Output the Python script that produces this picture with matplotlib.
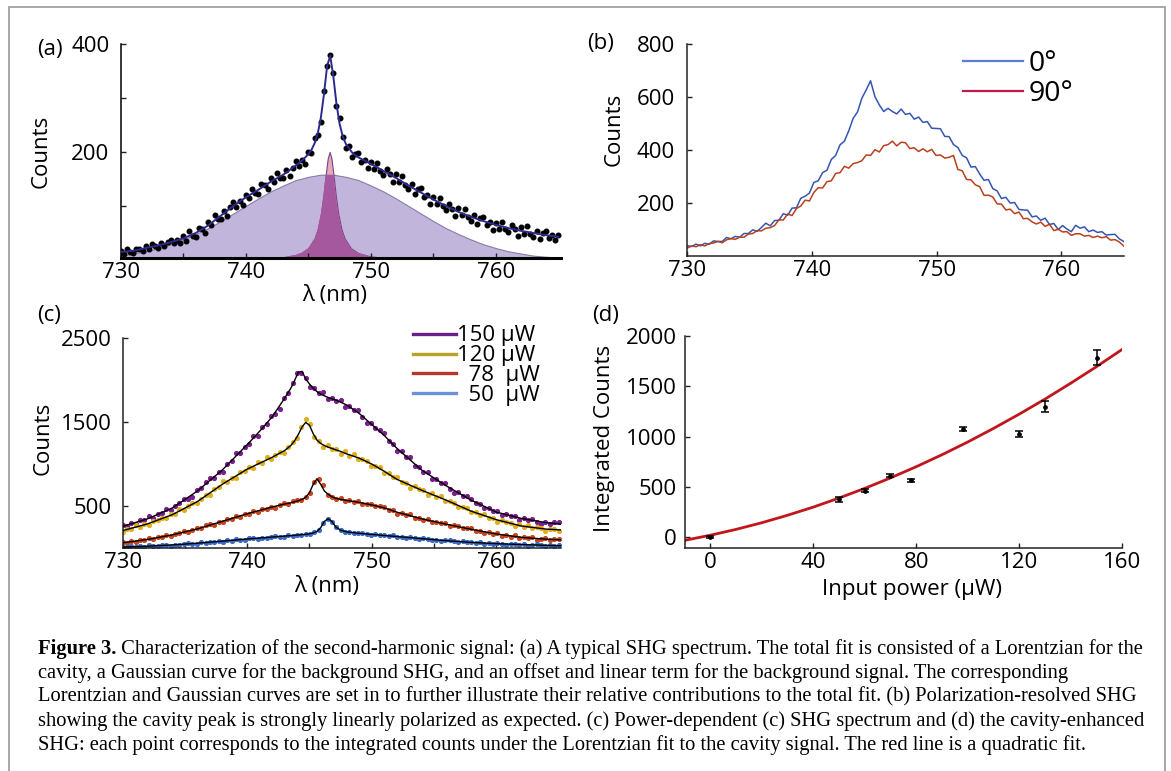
import numpy as np
import matplotlib
matplotlib.use("Agg")
import matplotlib.pyplot as plt
from matplotlib.lines import Line2D
from matplotlib.patches import Rectangle

plt.rcParams["font.family"] = ["Open Sans", "DejaVu Sans"]
plt.rcParams["font.size"] = 16

# (a) typical SHG spectrum, 0.25 nm steps from 730 to 765 nm
a_counts = [17, 12, 20, 14, 13, 21, 20, 16, 26, 21,
            30, 25, 23, 31, 25, 33, 37, 32, 37, 32,
            44, 36, 54, 44, 42, 59, 58, 50, 71, 64,
            84, 75, 75, 91, 82, 98, 108, 99, 110, 101,
            120, 114, 132, 124, 122, 140, 139, 131, 152, 144,
            162, 152, 151, 166, 156, 171, 183, 174, 186, 177,
            200, 198, 225, 231, 255, 313, 360, 380, 347, 285,
            263, 227, 208, 211, 190, 197, 198, 182, 186, 170,
            182, 169, 180, 165, 157, 168, 159, 145, 159, 144,
            156, 139, 131, 140, 122, 131, 133, 117, 120, 104,
            116, 103, 115, 100, 92, 103, 95, 82, 96, 83,
            95, 80, 73, 83, 67, 77, 80, 65, 70, 56,
            69, 57, 71, 57, 51, 64, 57, 45, 61, 49,
            63, 49, 43, 54, 39, 50, 54, 40, 46, 37,
            47]
a_fit_wl = [730, 731, 732, 733, 734, 735, 736, 737, 738, 739, 740, 741, 742, 743, 744,
            744.5, 745, 745.25, 745.5, 745.75, 746, 746.25, 746.5, 746.75, 747,
            747.25, 747.5, 747.75, 748, 748.5, 749, 750, 751, 752, 753, 754, 755,
            756, 757, 758, 759, 760, 761, 762, 763, 764, 765]
a_fit = [15, 17, 22, 27, 33, 40, 50, 64, 82, 100, 116, 130, 145, 158, 175,
         184, 196, 204, 216, 234, 263, 307, 359, 378, 340,
         289, 252, 229, 215, 199, 190, 178, 165, 152, 138, 125, 112,
         100, 89, 80, 72, 65, 59, 54, 50, 46, 43]
a_gauss_wl = list(range(730, 766))
a_gauss = [8, 12, 16, 22, 29, 38, 48, 59, 72, 86,
           100, 114, 127, 138, 148, 154, 158, 158, 154, 148,
           138, 127, 114, 100, 86, 72, 59, 48, 38, 29,
           22, 16, 12, 8, 6, 4]
a_lor_wl = [730, 735, 740, 742, 743, 744, 744.5, 745, 745.5, 745.75,
            746, 746.2, 746.4, 746.55, 746.7, 746.85, 747, 747.2, 747.4, 747.65,
            747.9, 748.4, 749, 750, 752, 755, 760, 765]
a_lor = [0.3, 0.5, 1.6, 3.2, 5.1, 9.4, 13.8, 22, 40, 57,
         85, 118, 160, 188, 200, 188, 160, 118, 85, 57,
         40, 22, 12.7, 6.4, 2.5, 1.0, 0.4, 0.2]

# (b) polarization resolved, 0.35 nm steps
b_deg0 = [39, 36, 45, 38, 48, 44, 57, 55, 55, 70,
          65, 74, 71, 85, 85, 99, 93, 108, 124, 114,
          134, 135, 160, 154, 181, 182, 218, 226, 238, 278,
          284, 315, 324, 365, 380, 420, 434, 473, 520, 544,
          596, 628, 662, 602, 571, 546, 558, 546, 537, 555,
          535, 539, 517, 525, 505, 508, 483, 482, 481, 452,
          451, 421, 410, 380, 371, 336, 338, 310, 286, 289,
          255, 246, 217, 222, 200, 202, 176, 174, 173, 148,
          151, 135, 143, 119, 123, 100, 115, 102, 92, 116,
          105, 110, 92, 98, 89, 92, 79, 81, 82, 65,
          55]
b_deg90 = [30, 38, 35, 43, 38, 47, 49, 55, 50, 61,
           66, 63, 71, 71, 83, 85, 96, 95, 105, 107,
           115, 137, 136, 159, 153, 179, 189, 211, 208, 240,
           258, 257, 281, 284, 312, 315, 339, 332, 349, 353,
           360, 382, 380, 402, 393, 417, 421, 434, 416, 430,
           428, 406, 409, 395, 405, 394, 403, 380, 382, 370,
           373, 380, 327, 322, 289, 288, 269, 262, 229, 230,
           223, 197, 196, 174, 177, 160, 166, 141, 142, 129,
           121, 128, 112, 120, 96, 101, 91, 92, 78, 84,
           84, 75, 78, 70, 75, 69, 73, 60, 62, 53,
           38]

# (c) power dependent spectra, 0.35 nm steps
c_labels = ["150 µW", "120 µW", "  78  µW", "  50  µW"]
c_150 = [278, 263, 297, 286, 334, 335, 379, 364, 405, 417,
         461, 450, 507, 533, 589, 590, 605, 687, 710, 783,
         830, 831, 901, 908, 1005, 1037, 1127, 1126, 1204, 1242,
         1330, 1338, 1434, 1481, 1570, 1600, 1657, 1781, 1844, 1967,
         2082, 2080, 2018, 1912, 1902, 1839, 1855, 1771, 1779, 1745,
         1755, 1682, 1690, 1642, 1637, 1553, 1487, 1489, 1423, 1408,
         1365, 1270, 1243, 1153, 1153, 1086, 1079, 979, 960, 904,
         903, 822, 827, 781, 777, 704, 654, 672, 622, 622,
         588, 533, 527, 476, 483, 444, 448, 398, 403, 379,
         388, 341, 357, 339, 352, 313, 290, 314, 294, 309,
         307]
c_120 = [196, 234, 234, 272, 258, 284, 275, 328, 332, 360,
         355, 407, 410, 465, 459, 502, 532, 532, 588, 638,
         638, 708, 724, 797, 784, 833, 829, 909, 919, 961,
         950, 1022, 1015, 1080, 1057, 1107, 1140, 1129, 1199, 1264,
         1305, 1439, 1530, 1471, 1323, 1270, 1198, 1221, 1182, 1178,
         1125, 1151, 1101, 1124, 1059, 1060, 1040, 977, 978, 961,
         895, 896, 842, 845, 782, 777, 719, 744, 700, 691,
         635, 661, 609, 619, 565, 559, 539, 489, 487, 474,
         426, 433, 401, 408, 362, 357, 315, 336, 308, 303,
         265, 285, 255, 277, 237, 247, 243, 210, 228, 234,
         205]
c_78 = [77, 63, 84, 71, 101, 96, 124, 106, 129, 130,
        160, 143, 173, 177, 202, 188, 220, 237, 238, 271,
        287, 282, 312, 307, 346, 350, 385, 374, 403, 409,
        444, 431, 464, 470, 496, 483, 515, 532, 528, 557,
        573, 569, 610, 662, 790, 823, 749, 636, 614, 586,
        594, 558, 569, 553, 558, 522, 531, 526, 499, 504,
        492, 454, 450, 413, 422, 396, 402, 361, 360, 338,
        348, 309, 317, 297, 298, 262, 271, 265, 240, 246,
        237, 206, 211, 181, 195, 173, 184, 150, 156, 140,
        154, 120, 134, 122, 130, 100, 116, 117, 101, 116,
        114]
c_50 = [21, 13, 27, 13, 25, 19, 35, 26, 23, 39,
        43, 33, 44, 37, 53, 63, 53, 55, 71, 67,
        79, 73, 89, 79, 93, 89, 107, 101, 99, 117,
        123, 114, 126, 119, 136, 146, 137, 139, 155, 151,
        163, 157, 174, 167, 191, 217, 304, 343, 312, 255,
        222, 195, 194, 177, 184, 185, 167, 161, 168, 156,
        158, 144, 152, 132, 138, 126, 135, 120, 109, 118,
        116, 99, 102, 87, 95, 97, 81, 75, 84, 72,
        76, 63, 73, 55, 63, 52, 64, 51, 43, 54,
        55, 40, 46, 33, 45, 49, 34, 30, 41, 32,
        38]
c_fit_wl = [730, 732, 734, 736, 738, 740, 741, 742, 743, 743.5,
            743.8, 744.1, 744.4, 744.7, 745.0, 745.3, 745.6, 745.9, 746.2, 746.5,
            746.8, 747.1, 747.5, 748, 749, 750, 751, 752, 754, 756,
            758, 760, 762, 764, 765.2]
c_fit_150 = [260, 350, 480, 680, 930, 1230, 1390, 1560, 1780, 1900,
             1990, 2090, 2100, 2010, 1950, 1900, 1860, 1830, 1810, 1790,
             1775, 1760, 1735, 1700, 1600, 1470, 1340, 1190, 930, 740,
             570, 430, 355, 305, 285]
c_fit_120 = [210, 290, 400, 555, 760, 940, 1010, 1080, 1160, 1220,
             1275, 1350, 1440, 1495, 1460, 1360, 1285, 1245, 1220, 1200,
             1185, 1170, 1150, 1120, 1070, 1000, 915, 820, 690, 570,
             440, 340, 265, 228, 218]
c_fit_78 = [65, 105, 160, 230, 320, 410, 450, 490, 525, 540,
            552, 565, 580, 605, 660, 760, 825, 760, 680, 640,
            612, 595, 580, 568, 545, 515, 480, 430, 350, 285,
            225, 170, 130, 108, 100]
c_fit_50 = [15, 25, 40, 60, 85, 110, 122, 133, 145, 150,
            154, 158, 162, 166, 172, 182, 200, 245, 320, 350,
            320, 255, 215, 195, 178, 165, 152, 140, 115, 90,
            70, 55, 45, 35, 30]

# (d) integrated counts vs power
d_power = [0, 50, 60, 70, 78, 98, 120, 130, 150]
d_counts = [3, 377, 462, 611, 565, 1076, 1022, 1296, 1782]
d_err = [8, 22, 15, 14, 14, 22, 28, 52, 72]
d_fit_power = [-10, 0, 10, 20, 30, 40, 50, 60, 70, 80, 90, 100, 110, 120, 130, 140, 150, 160]
d_fit_counts = [-31, 20, 78, 144, 218, 299, 389, 485, 589, 700, 819, 945, 1080, 1222, 1371, 1529, 1693, 1865]

W, H = 1171, 771
fig = plt.figure(figsize=(W / 100, H / 100), dpi=100)


def add_ax(left, top, right, bottom):
    # pixel box -> figure fraction
    return fig.add_axes([left / W, 1 - bottom / H, (right - left) / W, (bottom - top) / H])


def base_style(ax, lw=1.1, color="#222222"):
    for s in ("top", "right"):
        ax.spines[s].set_visible(False)
    for s in ("left", "bottom"):
        ax.spines[s].set_linewidth(lw)
        ax.spines[s].set_color(color)
    ax.tick_params(which="both", direction="in", length=3.5, width=1, color=color)
    ax.tick_params(axis="x", pad=3)


spec_wl = np.linspace(730, 765, len(b_deg0))
a_wl = np.linspace(730, 765, len(a_counts))

# ---------- (a) ----------
ax = add_ax(120.7, 44, 561, 258)
base_style(ax)
ax.spines["bottom"].set_linewidth(2.2)
ax.spines["bottom"].set_color("black")
ax.spines["left"].set_color("black")
g = ax.fill_between(a_gauss_wl, 0, a_gauss, facecolor="#c1b5dc", edgecolor="#8a7aa8", lw=0.8, zorder=1)
ax.fill_between(a_lor_wl, 0, a_lor, facecolor="#e6a9b8", edgecolor="#7a3f8a", lw=0.8, zorder=1.2)
ov = ax.fill_between(a_lor_wl, 0, a_lor, facecolor="#a6589e", edgecolor="none", zorder=1.3)
ov.set_clip_path(g.get_paths()[0], transform=ax.transData)
ax.plot(a_wl, a_counts, "o", ms=3.3, color="black", zorder=3)
ax.plot(a_fit_wl, a_fit, color="#2e2a8c", lw=1.4, zorder=4)
ax.set_xlim(730, 765.2)
ax.set_ylim(3.7, 400)
ax.set_xticks([730, 740, 750, 760])
ax.set_xticks([735, 745, 755], minor=True)
ax.set_yticks([200, 400])
ax.set_yticks([100, 300], minor=True)
ax.tick_params(axis="y", pad=8)
ax.set_ylabel("Counts")
ax.yaxis.set_label_coords(-0.156, 0.5)
ax.set_xlabel("λ (nm)", va="top")
ax.xaxis.set_label_coords(0.487, -0.125)

# ---------- (b) ----------
ax = add_ax(687.3, 44.3, 1124.3, 256)
base_style(ax)
ax.plot(spec_wl, b_deg0, color="#3556b0", lw=1.1)
ax.plot(spec_wl, b_deg90, color="#b8401c", lw=1.1)
ax.set_xlim(730, 765.05)
ax.set_ylim(0, 800)
ax.set_xticks([730, 740, 750, 760])
ax.set_yticks([200, 400, 600, 800])
ax.tick_params(axis="y", pad=9)
ax.set_ylabel("Counts")
ax.yaxis.set_label_coords(-0.143, 0.6)
handles = [Line2D([], [], color="#5b7fd0", lw=1.6), Line2D([], [], color="#c0184a", lw=1.6)]
ax.legend(handles, ["0°", "90°"], loc="upper left", bbox_to_anchor=(0.630, 0.975),
          frameon=False, fontsize=20.5, handlelength=2.13, handletextpad=0.18,
          labelspacing=0.1, borderpad=0, borderaxespad=0)

# ---------- (c) ----------
ax = add_ax(122.7, 337.7, 561, 548.3)
base_style(ax)
dot_colors = ["#7b1d8e", "#e0b01c", "#c8461e", "#3a6bc8"]
leg_colors = ["#6a1f87", "#b8a22a", "#b8372a", "#6b92d8"]
for ys, fit, col in zip([c_150, c_120, c_78, c_50],
                        [c_fit_150, c_fit_120, c_fit_78, c_fit_50], dot_colors):
    ax.plot(spec_wl, ys, "o", ms=2.7, color=col, zorder=2)
    ax.plot(c_fit_wl, fit, color="black", lw=1.0, zorder=3)
ax.set_xlim(730, 765.2)
ax.set_ylim(0, 2500)
ax.set_xticks([730, 740, 750, 760])
ax.set_xticks([735, 745, 755], minor=True)
ax.set_yticks([500, 1500, 2500])
ax.tick_params(axis="y", pad=8)
ax.set_ylabel("Counts")
ax.yaxis.set_label_coords(-0.157, 0.52)
ax.set_xlabel("λ (nm)", va="top")
ax.xaxis.set_label_coords(0.466, -0.13)
handles = [Line2D([], [], color=c, lw=2.4) for c in leg_colors]
ax.legend(handles, c_labels, loc="upper left", bbox_to_anchor=(0.663, 1.058),
          frameon=False, fontsize=16, handlelength=1.9, handletextpad=0.05,
          labelspacing=-0.05, borderpad=0, borderaxespad=0)

# ---------- (d) ----------
ax = add_ax(685, 335.7, 1122.3, 547.7)
base_style(ax)
ax.plot(d_fit_power, d_fit_counts, color="#c0161c", lw=2.0, zorder=2)
ax.errorbar(d_power, d_counts, yerr=d_err, fmt="o", ms=2.4, color="black",
            ecolor="black", elinewidth=1.1, capsize=3.2, capthick=1.1, zorder=3)
ax.set_xlim(-9.7, 160)
ax.set_ylim(-103, 2000)
ax.set_xticks([0, 40, 80, 120, 160])
ax.set_yticks([0, 500, 1000, 1500, 2000])
ax.tick_params(axis="y", pad=6)
ax.set_ylabel("Integrated Counts")
ax.yaxis.set_label_coords(-0.16, 0.515)
ax.set_xlabel("Input power (µW)", va="top")
ax.xaxis.set_label_coords(0.52, -0.15)

# panel letters
for txt, x, y in [("(a)", 37, 50), ("(b)", 587, 43), ("(c)", 37, 315), ("(d)", 592, 315)]:
    fig.text(x / W, 1 - y / H, txt, va="center", ha="left", fontsize=16)

# frame around the figure
fig.add_artist(Rectangle((9 / W, -0.01), (1165 - 9) / W, 1.01 - 7 / H,
                         transform=fig.transFigure, fill=False, ec="#a0a0a0", lw=1.3))

# caption
caption = [
    " Characterization of the second-harmonic signal: (a) A typical SHG spectrum. The total fit is consisted of a Lorentzian for the",
    "cavity, a Gaussian curve for the background SHG, and an offset and linear term for the background signal. The corresponding",
    "Lorentzian and Gaussian curves are set in to further illustrate their relative contributions to the total fit. (b) Polarization-resolved SHG",
    "showing the cavity peak is strongly linearly polarized as expected. (c) Power-dependent (c) SHG spectrum and (d) the cavity-enhanced",
    "SHG: each point corresponds to the integrated counts under the Lorentzian fit to the cavity signal. The red line is a quadratic fit.",
]
cap_font = ["Liberation Serif", "DejaVu Serif"]
probe = fig.text(0, 0, "Figure 3." + caption[0], fontsize=12, family=cap_font)
fig.canvas.draw()
cap_fs = 12 * 1103 / probe.get_window_extent().width
probe.remove()

x0 = 38
line_y = [649, 673, 697, 721, 745]
bold = fig.text(x0 / W, 1 - line_y[0] / H, "Figure 3.", fontsize=cap_fs, family=cap_font,
                fontweight="bold", va="center")
fig.canvas.draw()
bx = bold.get_window_extent().x1
fig.text(bx / W, 1 - line_y[0] / H, caption[0], fontsize=cap_fs, family=cap_font, va="center")
for line, y in zip(caption[1:], line_y[1:]):
    fig.text(x0 / W, 1 - y / H, line, fontsize=cap_fs, family=cap_font, va="center")

fig.savefig("out.png", dpi=100)
